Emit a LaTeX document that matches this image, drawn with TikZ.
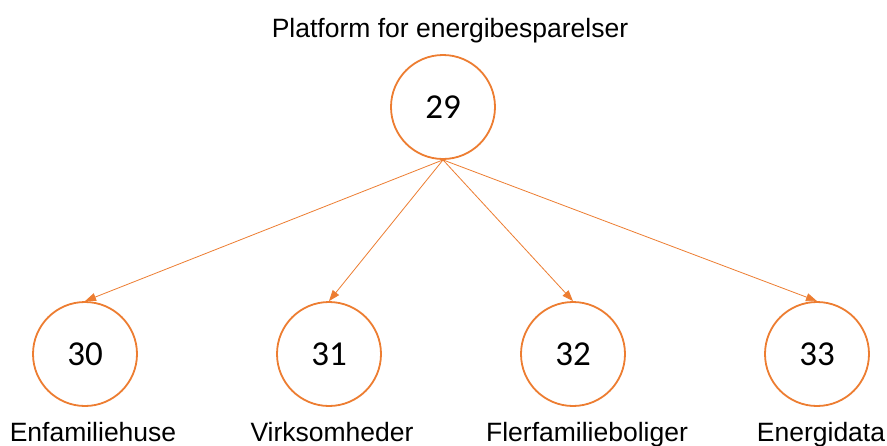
\documentclass[tikz,border=0pt]{standalone}
\usepackage{fontspec}
\setmainfont{Liberation Sans}
\newfontfamily\numfont{Carlito}
\usetikzlibrary{arrows.meta}
\definecolor{orng}{HTML}{ED7D31}
\begin{document}
\begin{tikzpicture}[x=1pt,y=-1pt,
 circ/.style={circle,draw=orng,line width=1.8pt,minimum size=104pt,inner sep=0pt,font=\numfont\fontsize{35}{35}\selectfont},
 lbl/.style={font=\fontsize{26.5}{26.5}\selectfont,anchor=base,inner sep=0pt},
 conn/.style={orng,line width=0.8pt,-{Triangle[length=11pt,width=8pt]}}]
\useasboundingbox[fill=white] (0,0) rectangle (887,445);
\node[circ] (n29) at (443,107) {29};
\node[circ] (n30) at (85,354) {30};
\node[circ] (n31) at (329,354) {31};
\node[circ] (n32) at (573,354) {32};
\node[circ] (n33) at (817,354) {33};
\node[lbl] (t29) at (450,37) {Platform for energibesparelser};
\node[lbl] (t30) at (93,441) {Enfamiliehuse};
\node[lbl] (t31) at (332,441) {Virksomheder};
\node[lbl] (t32) at (587,441) {Flerfamilieboliger};
\node[lbl] (t33) at (821,441) {Energidata};
\draw[conn] (n29.south) -- (n30.north);
\draw[conn] (n29.south) -- (n31.north);
\draw[conn] (n29.south) -- (n32.north);
\draw[conn] (n29.south) -- (n33.north);
\end{tikzpicture}
\end{document}
